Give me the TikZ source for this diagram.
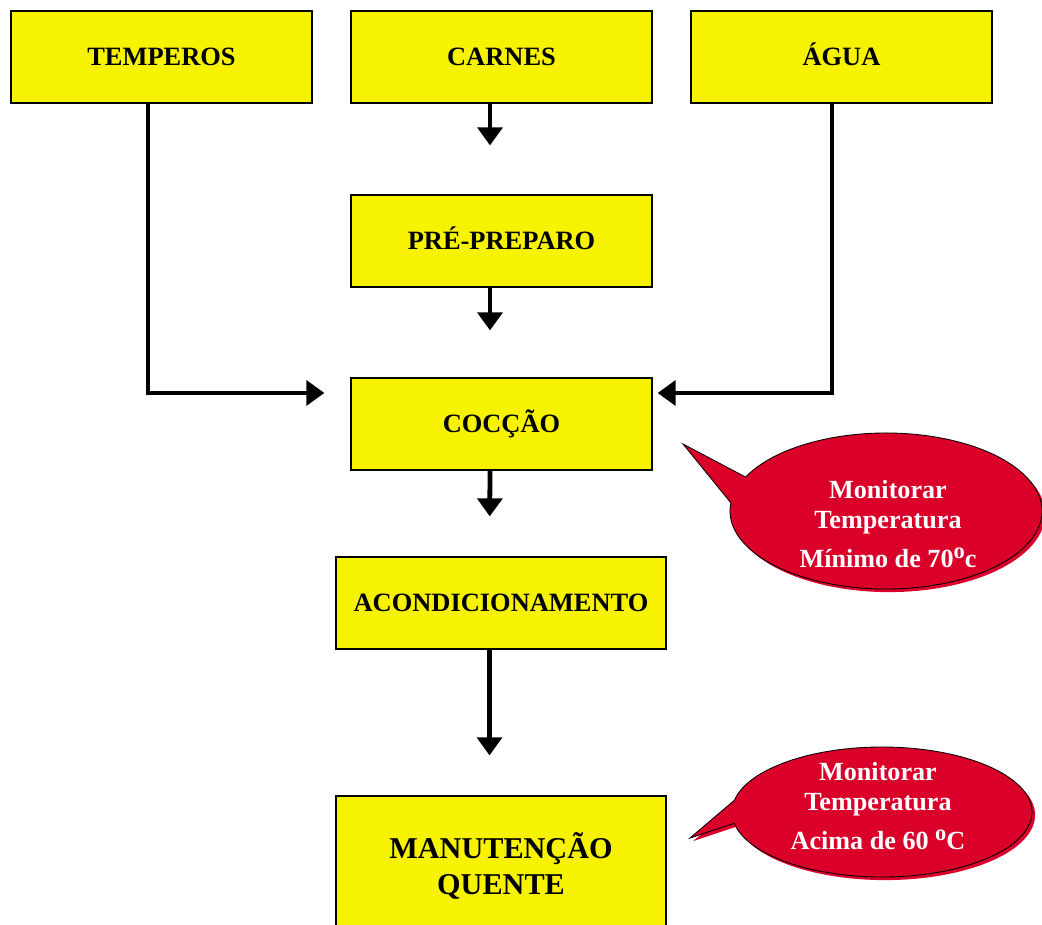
\documentclass[tikz,border=0pt]{standalone}
\usepackage{fontspec}
\setmainfont{Liberation Serif}
\usetikzlibrary{arrows.meta,calc}
\definecolor{amarelo}{RGB}{247,242,0}
\definecolor{balao}{RGB}{218,0,42}
\tikzset{seta/.style={line width=3.4pt, -{Triangle[length=12.8pt,width=17.5pt]}},
  etapa/.style={draw, line width=0.8pt, fill=amarelo, minimum width=7.525cm, minimum height=2.3cm, text height=12.5pt, text depth=0pt, font=\bfseries\fontsize{18.8}{22}\selectfont},
  etapalarga/.style={etapa, minimum width=8.25cm},
  balaofundo/.style={fill=balao, draw=black, line width=0.6pt, preaction={fill=balao, transform canvas={shift={(2.2pt,-2.2pt)}}}},
  balaotxt/.style={text=white, align=center, font=\bfseries\fontsize{18.6}{21.3}\selectfont}}
\newcommand{\grau}{\raisebox{0.75ex}{\fontsize{16}{16}\selectfont o}}

\begin{document}
\begin{tikzpicture}[x=0.025cm, y=-0.025cm]
  \clip (0,0) rectangle (1042,925);
  % inputs, top row
  \node[etapa] (temperos) at (161.5,57) {TEMPEROS};
  \node[etapa] (carnes) at (501.5,57) {CARNES};
  \node[etapa] (agua) at (841.5,57) {ÁGUA};
  % main column
  \node[etapa] (prepre) at (501.5,241) {PRÉ-PREPARO};
  \node[etapa] (coccao) at (501.5,424) {COCÇÃO};
  \node[etapalarga] (acond) at (501,603) {ACONDICIONAMENTO};
  \node[etapalarga, minimum height=3.5cm, text height=, text depth=, align=center, font=\bfseries\fontsize{21.5}{25.5}\selectfont] (manut) at (501,866) {MANUTENÇÃO\\QUENTE};
  % arrows down the column
  \foreach \a/\b/\g in {carnes/prepre/1.225cm, prepre/coccao/1.175cm, coccao/acond/1.0cm, acond/manut/1.0cm}{
    \draw[seta, shorten >=\g] ($(\a.south)+(-11.5,0)$) -- ($(\b.north)+(-11.5,0)$);}
  % side inputs into coccao
  \draw[seta, shorten >=0.65cm] ($(temperos.south)+(-13.5,0)$) |- ($(coccao.west)+(0,-31)$);
  \draw[seta, shorten >=0.125cm] ($(agua.south)+(-9.5,0)$) |- ($(coccao.east)+(0,-31)$);
  % callouts
  \coordinate (c1) at (886,511);
  \coordinate (ponta1) at (683,444);
  \path[balaofundo] (ponta1) -- ($(c1)+(205.8:156 and 78)$) arc[start angle=205.8, end angle=546, x radius=156, y radius=78] -- cycle;
  \node[balaotxt] (txt1) at (888,524) {Monitorar\\Temperatura\\[6pt]Mínimo de 70\grau c};
  \coordinate (c2) at (882,812);
  \coordinate (ponta2) at (690,838);
  \path[balaofundo] (ponta2) -- ($(c2)+(190.5:150 and 65)$) arc[start angle=190.5, end angle=530, x radius=150, y radius=65] -- cycle;
  \node[balaotxt] (txt2) at (878,806) {Monitorar\\Temperatura\\[6pt]Acima de 60 \grau C};
\end{tikzpicture}
\end{document}
